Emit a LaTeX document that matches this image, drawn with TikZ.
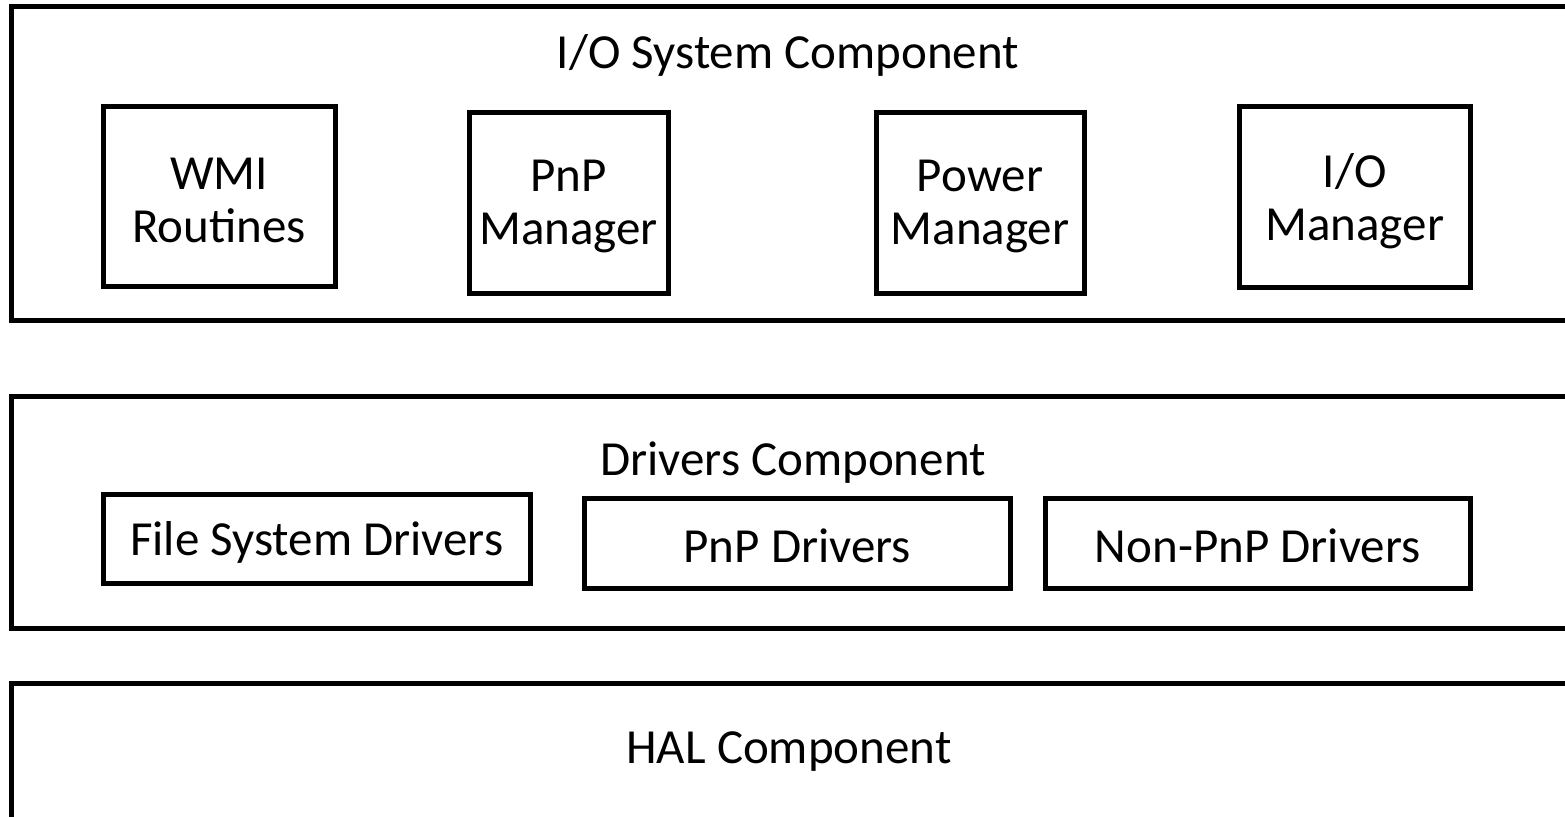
\documentclass[tikz,border=0pt]{standalone}
\usepackage{fontspec}
\setmainfont{Carlito}
\begin{document}
\begin{tikzpicture}[x=1pt,y=-1pt,
  outerbox/.style={draw=black,line width=5pt,inner sep=0pt,outer sep=0pt},
  innerbox/.style={draw=black,line width=5pt,inner sep=0pt,outer sep=0pt},
  txt/.style={inner sep=0pt,align=center,font=\fontsize{49}{53}\selectfont}]
\useasboundingbox (0,0) rectangle (1565,816);
\clip (0,0) rectangle (1565,816);
% outer components
\node[outerbox,minimum width=1600pt,minimum height=314pt,anchor=north west] (sys) at (11.5,6.5) {};
\node[outerbox,minimum width=1600pt,minimum height=232pt,anchor=north west] (drv) at (11.5,396.5) {};
\node[outerbox,minimum width=1600pt,minimum height=300pt,anchor=north west] (hal) at (11.5,683) {};
% titles
\node[txt] (systitle) at (788,55) {I/O System Component};
\node[txt] (drvtitle) at (793,463) {Drivers Component};
\node[txt] (haltitle) at (789,752) {HAL Component};
% I/O system sub-boxes
\node[innerbox,minimum width=231.5pt,minimum height=180pt] (wmi) at (219.25,196.5) {};
\node[innerbox,minimum width=199pt,minimum height=181pt] (pnpm) at (568.5,202.5) {};
\node[innerbox,minimum width=208pt,minimum height=181pt] (powm) at (980,202.5) {};
\node[innerbox,minimum width=231.5pt,minimum height=180.5pt] (iom) at (1354.75,196.75) {};
\node[txt] (wmit) at ([yshift=-4pt]wmi.center) {WMI\\Routines};
\node[txt] (pnpmt) at ([yshift=-4pt]pnpm.center) {PnP\\Manager};
\node[txt] (powmt) at ([yshift=-4pt]powm.center) {Power\\Manager};
\node[txt] (iomt) at ([yshift=-4pt]iom.center) {I/O\\Manager};
% drivers sub-boxes
\node[innerbox,minimum width=426.5pt,minimum height=88.5pt] (fsd) at (316.75,538.75) {};
\node[innerbox,minimum width=425.5pt,minimum height=89.5pt] (pnpd) at (797.25,543.25) {};
\node[innerbox,minimum width=425.5pt,minimum height=89.5pt] (npnpd) at (1257.75,543.25) {};
\node[txt] (fsdt) at ([yshift=-4pt]fsd.center) {File System Drivers};
\node[txt] (pnpdt) at ([yshift=-3pt]pnpd.center) {PnP Drivers};
\node[txt] (npnpdt) at ([yshift=-3pt]npnpd.center) {Non-PnP Drivers};
\end{tikzpicture}
\end{document}
